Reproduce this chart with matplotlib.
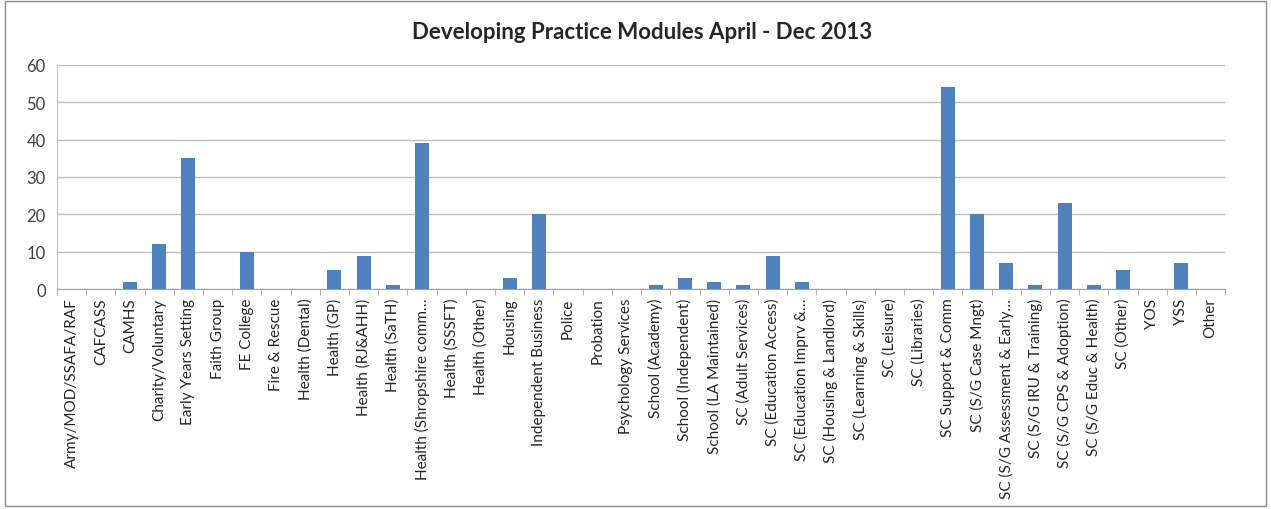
import matplotlib.pyplot as plt
from matplotlib.patches import Rectangle
import numpy as np

categories = [
    "Army/MOD/SSAFA/RAF", "CAFCASS", "CAMHS", "Charity/Voluntary",
    "Early Years Setting", "Faith Group", "FE College", "Fire & Rescue",
    "Health (Dental)", "Health (GP)", "Health (RJ&AHH)", "Health (SaTH)",
    "Health (Shropshire comm\u2026", "Health (SSSFT)", "Health (Other)", "Housing",
    "Independent Business", "Police", "Probation", "Psychology Services",
    "School (Academy)", "School (Independent)", "School (LA Maintained)",
    "SC (Adult Services)", "SC (Education Access)", "SC (Education Imprv &\u2026",
    "SC (Housing & Landlord)", "SC (Learning & Skills)", "SC (Leisure)",
    "SC (Libraries)", "SC Support & Comm", "SC (S/G Case Mngt)",
    "SC (S/G Assessment & Early\u2026", "SC (S/G IRU & Training)",
    "SC (S/G CPS & Adoption)", "SC (S/G Educ & Health)", "SC (Other)",
    "YOS", "YSS", "Other",
]
values = [0, 0, 2, 12, 35, 0, 10, 0, 0, 5, 9, 1, 39, 0, 0, 3, 20, 0, 0, 0,
          1, 3, 2, 1, 9, 2, 0, 0, 0, 0, 54, 20, 7, 1, 23, 1, 5, 0, 7, 0]
y_ticks = [0, 10, 20, 30, 40, 50, 60]

plt.rcParams['font.family'] = ['Lato', 'DejaVu Sans']

fig = plt.figure(figsize=(12.71, 5.10), dpi=100)
fig.patches.append(Rectangle((0.004, 0.006), 0.992, 0.99, transform=fig.transFigure,
                             fill=False, edgecolor='#8c8c8c', linewidth=1))
ax = fig.add_axes([0.0448, 0.431, 0.9192, 0.44])

x = np.arange(len(categories))
ax.bar(x, values, width=0.48, color='#4F81BD', zorder=3)

ax.set_xlim(-0.5, len(categories) - 0.5)
ax.set_ylim(0, 60)
ax.set_yticks(y_ticks)
ax.yaxis.grid(True, color='#BFBFBF', linewidth=1, zorder=0)
ax.tick_params(axis='y', length=0, labelsize=12, colors='#404040', pad=8)

ax.set_xticks(x)
ax.set_xticklabels(categories, rotation=90, fontsize=11, color='#262626')
ax.tick_params(axis='x', which='major', length=0, pad=6)
ax.set_xticks(np.arange(-0.5, len(categories), 1), minor=True)
ax.tick_params(axis='x', which='minor', length=4, color='#A0A0A0', direction='out')

for s in ['top', 'right']:
    ax.spines[s].set_visible(False)
ax.spines['left'].set_color('#BFBFBF')
ax.spines['bottom'].set_color('#A0A0A0')

fig.text(0.505, 0.937, "Developing Practice Modules April - Dec 2013",
         ha='center', va='center', fontsize=16, fontweight='bold', color='#262626')

fig.savefig("out.png", dpi=100)
